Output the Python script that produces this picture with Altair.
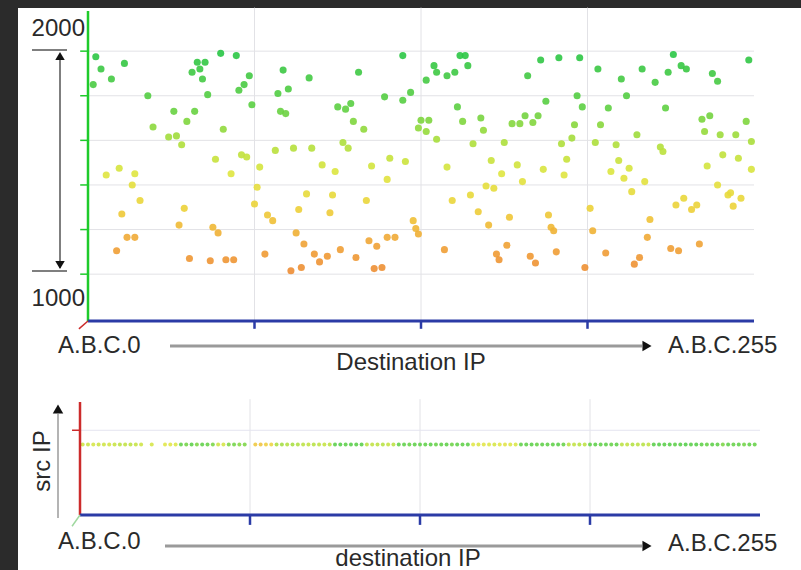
import altair as alt
import pandas as pd

# ---------------- data ----------------
# top scatter: destination host (A.B.C.x, 0-255) and destination port
dest = [3, 5, 9, 2, 14, 23, 51, 57, 42, 45, 43, 40, 44, 62, 60, 58, 46, 63, 33, 41, 38, 25, 52, 31, 34, 36,
        49, 59, 61, 12, 7, 18, 17, 55, 20, 13, 37, 35, 48, 50, 15, 18, 11, 39, 47, 53, 56,
        121, 75, 85, 104, 73, 77, 74, 76, 96, 99, 101, 114, 121, 124, 102, 106, 72, 79, 86, 98, 100, 66,
        90, 95, 109, 116, 122, 115, 65, 84, 94, 107, 64, 93, 81, 69, 71, 125, 126, 127, 80, 83, 68, 87,
        89, 92, 97, 103, 108, 111, 115, 118, 78, 82, 110, 113,
        143, 145, 146, 133, 134, 138, 141, 130, 174, 181, 189, 169, 188, 176, 190, 142, 128, 131, 127, 130,
        134, 144, 151, 152, 163, 166, 168, 171, 173, 187, 186, 182, 148, 160, 155, 138, 165, 175, 184, 183,
        159, 167, 153, 156, 147, 140, 150, 162, 154, 177, 178, 179, 161, 137, 157, 158, 170, 172, 180, 191,
        225, 254, 196, 213, 228, 230, 223, 205, 218, 240, 242, 207, 200, 222, 236, 239, 253, 197, 211, 237,
        243, 249, 255, 195, 203, 220, 221, 244, 250, 238, 255, 204, 208, 201, 206, 214, 209, 242, 246, 247,
        251, 248, 229, 226, 232, 234, 193, 216, 194, 215, 199, 224, 227, 235, 212, 210]
port = [1975, 1920, 1875, 1850, 1945, 1800, 1990, 1980, 1950, 1950, 1920, 1905, 1875, 1890, 1850, 1825, 1805,
        1760, 1730, 1730, 1685, 1660, 1650, 1615, 1620, 1580, 1515, 1535, 1525, 1475, 1445, 1450, 1400, 1450,
        1330, 1270, 1295, 1220, 1210, 1185, 1165, 1165, 1105, 1070, 1060, 1065, 1065,
        1980, 1915, 1880, 1905, 1810, 1830, 1730, 1720, 1750, 1740, 1765, 1795, 1780, 1815, 1685, 1650, 1555,
        1565, 1565, 1590, 1565, 1480, 1490, 1460, 1485, 1520, 1505, 1425, 1390, 1360, 1355, 1330, 1315, 1275,
        1290, 1265, 1240, 1240, 1205, 1180, 1185, 1135, 1090, 1090, 1055, 1080, 1110, 1075, 1150, 1125, 1165,
        1165, 1015, 1030, 1025, 1030,
        1980, 1980, 1935, 1935, 1905, 1890, 1905, 1870, 1960, 1970, 1970, 1890, 1800, 1775, 1750, 1750, 1690,
        1690, 1655, 1640, 1605, 1685, 1700, 1645, 1675, 1675, 1710, 1680, 1710, 1670, 1610, 1585, 1585, 1590,
        1510, 1480, 1490, 1470, 1515, 1445, 1450, 1415, 1395, 1385, 1355, 1330, 1280, 1255, 1220, 1265, 1210,
        1195, 1130, 1110, 1090, 1065, 1080, 1050, 1100, 1030,
        1985, 1960, 1920, 1920, 1935, 1920, 1905, 1875, 1860, 1900, 1865, 1800, 1745, 1745, 1695, 1710, 1685,
        1670, 1625, 1640, 1625, 1625, 1595, 1590, 1580, 1570, 1550, 1535, 1520, 1485, 1470, 1510, 1475, 1460,
        1430, 1415, 1370, 1400, 1355, 1365, 1340, 1305, 1340, 1310, 1290, 1310, 1295, 1245, 1195, 1165, 1095,
        1115, 1105, 1135, 1075, 1045]

# bottom strip: every destination reached from one source IP, coloured by port
strip_dest = [1, 3, 5, 7, 9, 11, 13, 15, 17, 19, 21, 23, 27,
              32, 34, 36, 38, 40, 42, 44, 46, 48, 50, 52, 54, 56, 58, 60, 62,
              66, 68, 70, 72, 74, 76, 78, 80, 82, 84, 86, 88, 90, 92, 94,
              96, 98, 100, 102, 104, 106, 108, 110, 112, 114, 116, 118,
              120, 122, 124, 126, 128, 130, 132, 134, 136, 138, 140, 142, 144, 146,
              148, 150, 152, 154, 156, 158, 160, 162, 164,
              166, 168, 170, 172, 174, 176, 178, 180, 182,
              184, 186, 188, 190, 192, 194, 196, 198, 200, 202,
              204, 206, 208, 210, 212, 214, 216, 218, 220, 222, 224, 226, 228, 230, 232,
              234, 236, 238, 240, 242, 244, 246, 248, 250, 252, 254]
strip_port = [1500, 1520, 1480, 1510, 1500, 1490, 1520, 1560, 1540, 1550, 1530, 1500, 1480,
              1450, 1440, 1460, 1750, 1720, 1780, 1700, 1760, 1740, 1710, 1500, 1480, 1700, 1720, 1680, 1700,
              1260, 1240, 1280, 1300, 1600, 1620, 1580, 1610, 1590, 1560, 1540, 1570, 1550, 1530, 1560,
              1800, 1820, 1780, 1810, 1790, 1800, 1560, 1540, 1550, 1570, 1530, 1560,
              1750, 1760, 1740, 1770, 1750, 1760, 1780, 1740, 1750, 1770, 1730, 1760, 1750, 1780,
              1450, 1470, 1440, 1460, 1480, 1450, 1430, 1460, 1470,
              1760, 1750, 1780, 1740, 1770, 1750, 1760, 1790, 1740,
              1560, 1540, 1570, 1550, 1760, 1780, 1750, 1770, 1740, 1760,
              1560, 1540, 1580, 1550, 1570, 1540, 1800, 1820, 1790, 1810, 1780, 1800, 1830, 1790, 1810,
              1760, 1740, 1780, 1750, 1700, 1770, 1740, 1760, 1720, 1750, 1740]

port_gridlines = [1000, 1200, 1400, 1600, 1800, 2000]
dest_gridlines = [64, 128, 192]
port_labels = ["2000", "1000"]
end_labels = ["A.B.C.0", "A.B.C.255"]
top_x_title = "Destination IP"
bottom_x_title = "destination IP"
bottom_y_title = "src IP"
src_level = 5
src_gridline = 6

# ---------------- styling ----------------
FONT = "Liberation Sans"
TXT = "#2a2a2a"
GREEN_AX = "#1ecb2b"
BLUE_AX = "#2b3ba6"
RED_AX = "#cc2b2b"
GRID = "#e2e2e6"

color_scale = alt.Scale(domain=[1000, 1150, 1300, 1450, 1600, 1750, 2000],
                        range=["#ec8a34", "#f0a636", "#ecd23a", "#dfe540", "#a9de3c", "#5ccf43", "#24c545"])

xs_top = alt.Scale(domain=[0, 256], range=[70, 736], nice=False, zero=False)
ys_top = alt.Scale(domain=[790, 2180], range=[313, 3], nice=False, zero=False)
xs_bot = alt.Scale(domain=[0, 256], range=[62, 742], nice=False, zero=False)
ys_bot = alt.Scale(domain=[0, 8], range=[129, 16], nice=False, zero=False)


def seg(df, xs, ys, color, width, x="x0", x2=None, y="y0", y2=None, opacity=1.0):
    enc = dict(x=alt.X(f"{x}:Q", scale=xs, axis=None), y=alt.Y(f"{y}:Q", scale=ys, axis=None))
    if x2:
        enc["x2"] = alt.X2(f"{x2}:Q")
    if y2:
        enc["y2"] = alt.Y2(f"{y2}:Q")
    return alt.Chart(pd.DataFrame(df)).mark_rule(color=color, strokeWidth=width, opacity=opacity).encode(**enc)


def label(text, x, y, align="left", angle=0, size=24):
    return alt.Chart(pd.DataFrame({"t": [text]})).mark_text(
        align=align, baseline="middle", fontSize=size, font=FONT, color=TXT, angle=angle
    ).encode(text="t:N", x=alt.value(x), y=alt.value(y))


def pline(x, x2, y, y2, color="#9a9a9a", width=3):
    return alt.Chart(pd.DataFrame({"a": [0]})).mark_rule(color=color, strokeWidth=width).encode(
        x=alt.value(x), x2=alt.value(x2), y=alt.value(y), y2=alt.value(y2))


def head(shape, x, y, size=110):
    return alt.Chart(pd.DataFrame({"a": [0]})).mark_point(
        shape=shape, filled=True, color="#111111", size=size, opacity=1
    ).encode(x=alt.value(x), y=alt.value(y))


n_pg = len(port_gridlines)
n_dg = len(dest_gridlines)

# ---------------- top panel ----------------
top_layers = [
    seg({"x0": dest_gridlines, "y0": [790] * n_dg, "y1": [2195] * n_dg}, xs_top, ys_top, GRID, 1, y2="y1"),
    seg({"y0": port_gridlines, "x0": [0] * n_pg, "x1": [256] * n_pg}, xs_top, ys_top, GRID, 1, x2="x1"),
    alt.Chart(pd.DataFrame({"dest": dest, "port": port})).mark_circle(size=50, opacity=0.9).encode(
        x=alt.X("dest:Q", scale=xs_top, axis=None),
        y=alt.Y("port:Q", scale=ys_top, axis=None),
        color=alt.Color("port:Q", scale=color_scale, legend=None)),
    seg({"x0": [0], "y0": [790], "y1": [2180]}, xs_top, ys_top, GREEN_AX, 2.5, y2="y1"),
    seg({"y0": port_gridlines, "x0": [-3] * n_pg, "x1": [0] * n_pg}, xs_top, ys_top, GREEN_AX, 1.5, x2="x1"),
    seg({"y0": [790], "x0": [0], "x1": [256]}, xs_top, ys_top, BLUE_AX, 3, x2="x1"),
    seg({"x0": dest_gridlines, "y0": [790] * n_dg, "y1": [755] * n_dg}, xs_top, ys_top, BLUE_AX, 2.5, y2="y1"),
    seg({"x0": [0], "x1": [-3.5], "y0": [790], "y1": [755]}, xs_top, ys_top, RED_AX, 1.5, x2="x1", y2="y1"),
    # port range arrow
    pline(42, 42, 46, 260, color="#555555", width=1.5),
    pline(14, 49, 42, 42, color="#555555", width=1.5),
    pline(14, 49, 263, 263, color="#555555", width=1.5),
    head("triangle-up", 42, 48, 90),
    head("triangle-down", 42, 257, 90),
    label(port_labels[0], 67, 21, align="right"),
    label(port_labels[1], 67, 291, align="right"),
    # x annotation
    label(end_labels[0], 40, 338),
    pline(152, 624, 338, 338),
    head("triangle-right", 629, 338, 110),
    label(end_labels[1], 650, 338),
    label(top_x_title, 393, 355, align="center"),
]
top = alt.layer(*top_layers).properties(width=783, height=378)

# ---------------- bottom panel ----------------
n_s = len(strip_dest)
bot_layers = [
    seg({"x0": dest_gridlines, "y0": [0] * n_dg, "y1": [8.2] * n_dg}, xs_bot, ys_bot, GRID, 1, y2="y1"),
    seg({"y0": [src_gridline], "x0": [0], "x1": [256]}, xs_bot, ys_bot, "#e4e4f0", 1, x2="x1"),
    alt.Chart(pd.DataFrame({"dest": strip_dest, "src": [src_level] * n_s, "port": strip_port})).mark_circle(
        size=16, opacity=0.85).encode(
        x=alt.X("dest:Q", scale=xs_bot, axis=None),
        y=alt.Y("src:Q", scale=ys_bot, axis=None),
        color=alt.Color("port:Q", scale=color_scale, legend=None)),
    seg({"x0": [0], "y0": [0], "y1": [8]}, xs_bot, ys_bot, RED_AX, 2.5, y2="y1"),
    seg({"y0": [src_gridline], "x0": [-3], "x1": [0]}, xs_bot, ys_bot, RED_AX, 1.5, x2="x1"),
    seg({"y0": [0], "x0": [0], "x1": [256]}, xs_bot, ys_bot, BLUE_AX, 3, x2="x1"),
    seg({"x0": dest_gridlines, "y0": [0] * n_dg, "y1": [-0.7] * n_dg}, xs_bot, ys_bot, BLUE_AX, 2.5, y2="y1"),
    seg({"x0": [0], "x1": [-3], "y0": [0], "y1": [-0.8]}, xs_bot, ys_bot, "#9fd89f", 1.5, x2="x1", y2="y1"),
    # src IP arrow
    pline(40, 40, 28, 132, color="#b4b4b4", width=2),
    head("triangle-up", 40, 23, 110),
    label(bottom_y_title, 25, 75, align="center", angle=270),
    label(end_labels[0], 40, 156),
    pline(147, 624, 160, 160),
    head("triangle-right", 629, 160, 110),
    label(end_labels[1], 650, 158),
    label(bottom_x_title, 390, 173, align="center"),
]
bottom = alt.layer(*bot_layers).properties(width=783, height=185)

chart = alt.vconcat(top, bottom, spacing=0).properties(
    background="#2b2b2b",
    padding={"left": 18, "top": 7, "right": 0, "bottom": 0},
).configure_view(fill="white", strokeWidth=0)

chart.save("out.html", embed_options={"renderer": "svg", "actions": False})
